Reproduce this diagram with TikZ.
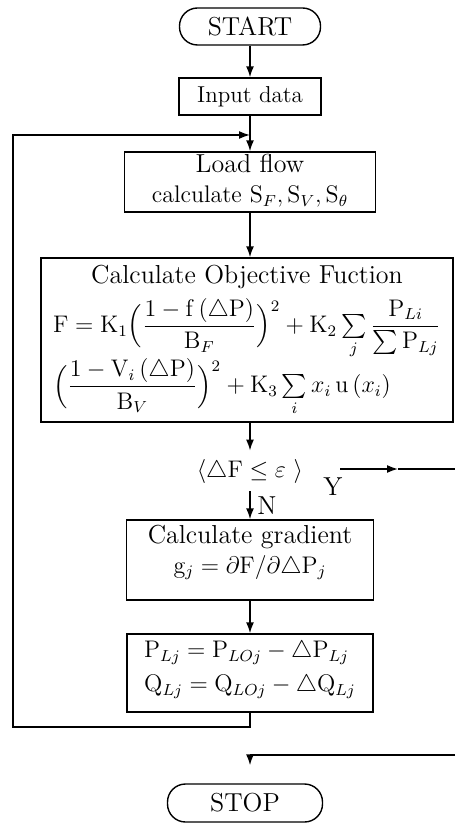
\documentclass[tikz,border=0pt]{standalone}
\usepackage{amsmath}
\usepackage{tikz}
\usetikzlibrary{positioning,arrows.meta}

\tikzset{
  procbox/.style={rectangle, draw, line width=0.7pt, inner sep=0pt},
  termbox/.style={rectangle, draw, line width=0.7pt, rounded corners=9pt},
  flow/.style={line width=0.8pt, -{Latex[length=5.5pt,width=4pt]}},
  plain/.style={line width=0.8pt},
}

\begin{document}
\begin{tikzpicture}[x=0.5pt, y=-0.5pt, font=\fontsize{13}{15}\selectfont]
  \useasboundingbox (0,0) rectangle (455,823);

  % terminals and process boxes
  \node[termbox, minimum width=70.5pt, minimum height=18.5pt] (start) at (250,26.5) {START};
  \node[procbox, minimum width=71pt, minimum height=18.5pt,
        font=\fontsize{11.5}{13}\selectfont] (input) at (250,96.5) {Input data};
  \node[procbox, minimum width=125.5pt, minimum height=30pt] (load) at (250,182) {
    \begin{tabular}{c}
      Load flow\\
      {\fontsize{12}{14}\selectfont calculate $\mathrm{S}_F,\mathrm{S}_V,\mathrm{S}_\theta$}
    \end{tabular}};
  \node[procbox, minimum width=206pt, minimum height=82pt, font=\fontsize{12}{14}\selectfont] (obj) at (247,340) {
    \begin{tabular}{@{}l@{}}
      \multicolumn{1}{c}{\fontsize{13}{15}\selectfont Calculate Objective Fuction}\\[3pt]
      $\displaystyle \mathrm{F}=\mathrm{K}_1\Bigl(\frac{1-\mathrm{f}\,(\triangle\mathrm{P})}{\mathrm{B}_F}\Bigr)^{2}
        +\mathrm{K}_2\textstyle\sum\limits_j\displaystyle\frac{\mathrm{P}_{Li}}{\sum\mathrm{P}_{Lj}}$\\[5pt]
      $\displaystyle \Bigl(\frac{1-\mathrm{V}_i\,(\triangle\mathrm{P})}{\mathrm{B}_V}\Bigr)^{2}
        +\mathrm{K}_3\textstyle\sum\limits_i x_i\,\mathrm{u}\,(x_i)$\\[3pt]
    \end{tabular}};
  \node[inner xsep=0pt, inner ysep=4pt, font=\fontsize{12}{14}\selectfont] (dec) at (250,471)
    {$\langle\triangle\mathrm{F}\le\varepsilon\ \rangle$};
  \node (ylab) at (333,487) {Y};
  \node[procbox, minimum width=123.5pt, minimum height=40pt] (grad) at (250,560) {
    \begin{tabular}{c}
      Calculate gradient\\
      {\fontsize{12}{14}\selectfont $\mathrm{g}_j=\partial\mathrm{F}/\partial\triangle\mathrm{P}_j$}\\[8pt]
    \end{tabular}};
  \node[procbox, minimum width=123pt, minimum height=39pt, font=\fontsize{12}{14}\selectfont] (pq) at (250,673) {
    \begin{tabular}{l}
      $\mathrm{P}_{Lj}=\mathrm{P}_{LOj}-\triangle\mathrm{P}_{Lj}$\\[3pt]
      $\mathrm{Q}_{Lj}=\mathrm{Q}_{LOj}-\triangle\mathrm{Q}_{Lj}$\\[4pt]
    \end{tabular}};
  \node[termbox, minimum width=77.5pt, minimum height=19pt] (stop) at (245,803) {STOP};

  % free ends of the connectors
  \coordinate (join) at (250,135);
  \coordinate (lpbl) at (13,727);
  \coordinate (ystart) at (340,469);
  \coordinate (ymid) at (398,469);
  \coordinate (yend) at (455,469);
  \coordinate (rin) at (455,755);
  \coordinate (rturn) at (250,755);

  \draw[flow] (start) -- (input);
  \draw[flow] (input) -- (load);
  \draw[flow] (load) -- (load |- obj.north);
  \draw[flow] (obj.south -| dec) -- (dec);
  \draw[flow] (dec) -- node[right] {N} (grad);
  \draw[flow] (grad) -- (pq);
  \draw[flow] (pq.south) |- (lpbl) |- (join);
  \draw[flow] (ystart) -- (ymid);
  \draw[plain] (ymid) -- (yend);
  \draw[plain] (rin) -- (rturn);
  \draw[flow, shorten >=9pt] (rturn) -- (rturn |- stop.north);
\end{tikzpicture}
\end{document}
